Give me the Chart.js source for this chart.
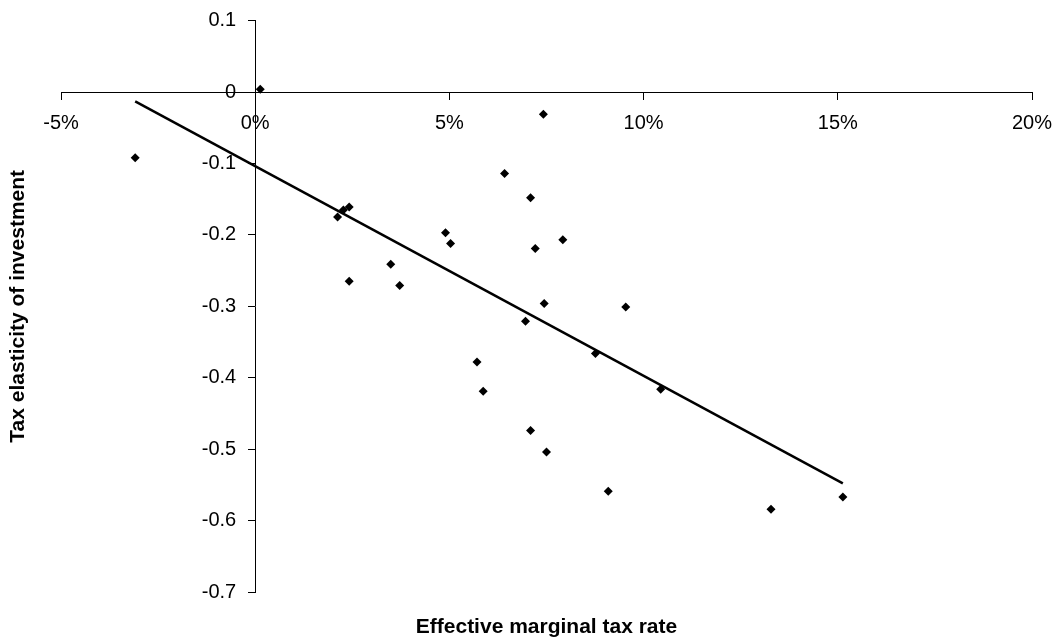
<!DOCTYPE html>
<html>
<head>
<meta charset="utf-8">
<script src="https://cdn.jsdelivr.net/npm/chart.js@4"></script>
<style>
  body { margin: 0; background: #fff; }
  #wrap { width: 1054px; height: 637px; position: relative; }
</style>
</head>
<body>
<div id="wrap"><canvas id="myChart"></canvas></div>
<script>
// Effective marginal tax rate (%) vs tax elasticity of investment
const taxRate = [-3.09, 0.13, 2.12, 2.27, 2.42, 2.42, 3.49, 3.72, 4.90, 5.03, 5.71, 5.87, 6.42, 6.96,
    7.09, 7.09, 7.21, 7.42, 7.44, 7.50, 7.92, 8.76, 9.09, 9.54, 10.44, 13.28, 15.13];
const elasticity = [-0.092, 0.004, -0.175, -0.165, -0.161, -0.265, -0.241, -0.271, -0.197, -0.212, -0.378, -0.419, -0.114, -0.321,
    -0.148, -0.474, -0.219, -0.031, -0.296, -0.504, -0.207, -0.366, -0.559, -0.301, -0.416, -0.584, -0.567];

// trend line end points
const trendX = [-3.09, 15.13];
const trendY = [-0.013, -0.548];

const xTicks = [-5, 0, 5, 10, 15, 20];
const yTicks = [0.1, 0, -0.1, -0.2, -0.3, -0.4, -0.5, -0.6, -0.7];

const tickFont = { family: 'Arial, "Liberation Sans", sans-serif', size: 20 };
const titleFont = { family: 'Arial, "Liberation Sans", sans-serif', size: 21, weight: 'bold' };

Chart.defaults.color = '#000';

const ctx = document.getElementById('myChart');

let points = taxRate.map((x, i) => ({ x: x, y: elasticity[i] }));
let trend = trendX.map((x, i) => ({ x: x, y: trendY[i] }));

// spare axes only carry the titles at the edges
let titleAxis = (text, pos, pad) => ({
    type: 'linear',
    position: pos,
    min: 0, max: 1,
    ticks: { display: false },
    grid: { display: false, drawTicks: false },
    border: { display: false },
    title: { display: true, text: text, font: titleFont, color: '#000', padding: pad }
});

// axes sitting on the zero lines should not push the plot area in
let noPadding = (s) => {
    s.paddingLeft = 0; s.paddingRight = 0; s.paddingTop = 0; s.paddingBottom = 0;
};

// chart.js draws y labels of a value-positioned axis right on the line, move them left of the ticks
const shiftYLabels = {
    id: 'shiftYLabels',
    beforeDraw(chart) {
        const s = chart.scales.y;
        const gap = s.options.grid.tickLength + s.options.ticks.padding;
        s.getLabelItems().forEach(item => { item.options.translation[0] -= gap; });
    }
};

const myChart = new Chart(ctx, {
    type: 'scatter',
    data: {
        datasets: [{
            label: 'Countries',
            data: points,
            pointStyle: 'rectRot',
            pointRadius: 4.5,
            pointBorderWidth: 0,
            backgroundColor: '#000',
            borderColor: '#000'
        }, {
            label: 'Trend',
            type: 'line',
            data: trend,
            borderColor: '#000',
            borderWidth: 2.5,
            pointRadius: 0,
            fill: false
        }]
    },
    options: {
        responsive: true,
        maintainAspectRatio: false,
        animation: false,
        layout: { padding: { left: 0, right: 22, top: 20.6, bottom: 0 } },
        plugins: { legend: { display: false }, tooltip: { enabled: false } },
        scales: {
            x: {
                type: 'linear',
                position: { y: 0 },
                min: -5, max: 20,
                afterBuildTicks: (s) => { s.ticks = xTicks.map(v => ({ value: v })); },
                afterFit: noPadding,
                ticks: { font: tickFont, padding: 12, callback: (v) => v + '%' },
                grid: { drawOnChartArea: false, drawTicks: true, tickLength: 7, color: '#000' },
                border: { display: true, color: '#000', width: 1 }
            },
            y: {
                type: 'linear',
                position: { x: 0 },
                min: -0.7, max: 0.1,
                afterBuildTicks: (s) => { s.ticks = yTicks.map(v => ({ value: v })); },
                afterFit: noPadding,
                ticks: { font: tickFont, padding: 12, callback: (v) => v === 0 ? '0' : v.toFixed(1) },
                grid: { drawOnChartArea: false, drawTicks: true, tickLength: 7, color: '#000' },
                border: { display: true, color: '#000', width: 1 }
            },
            xTitle: Object.assign(titleAxis('Effective marginal tax rate', 'bottom', { top: 22.8, bottom: -3 }), { axis: 'x' }),
            yTitle: Object.assign(titleAxis('Tax elasticity of investment', 'left', { top: 5.4, bottom: 30.4 }), { axis: 'y' })
        }
    },
    plugins: [shiftYLabels]
});
</script>
</body>
</html>
